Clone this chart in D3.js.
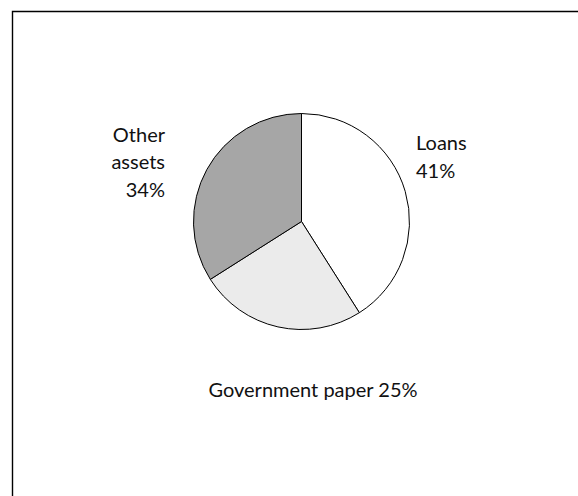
<!DOCTYPE html>
<html>
<head>
<meta charset="utf-8">
<script src="https://cdn.jsdelivr.net/npm/d3@7"></script>
<style>
  body { margin: 0; background: #fff; }
  text { font-family: Lato, "Open Sans", sans-serif; fill: #111; }
</style>
</head>
<body>
<script>
var width = 578;
var height = 496;

// slice data, clockwise from 12 o'clock
var categories = ["Loans", "Government paper", "Other assets"];
var shares = [41, 25, 34];
var fills = ["#ffffff", "#ebebeb", "#a6a6a6"];

var svg = d3.select("body").append("svg")
  .attr("width", width)
  .attr("height", height);

// frame (only left and top edges show)
svg.append("path")
  .attr("d", "M12.5," + height + "V11.5H" + width)
  .attr("fill", "none")
  .attr("stroke", "#000")
  .attr("stroke-width", 1.4);

var cx = 301.5, cy = 221.5, r = 108;

var pie = d3.pie().sort(null).value(function(d){ return d; });
var arc = d3.arc().innerRadius(0).outerRadius(r);

var g = svg.append("g").attr("transform", "translate(" + cx + "," + cy + ")");

g.selectAll("path")
  .data(pie(shares))
  .enter()
  .append("path")
  .attr("d", arc)
  .attr("fill", function(d, i){ return fills[i]; })
  .attr("stroke", "#000")
  .attr("stroke-width", 1);

// labels
var fs = 20;

var loans = svg.append("text").attr("x", 416).attr("y", 150).style("font-size", fs + "px");
loans.append("tspan").attr("x", 416).text(categories[0]);
loans.append("tspan").attr("x", 416).attr("dy", 28).text(shares[0] + "%");

var other = svg.append("text").attr("y", 141.5).attr("text-anchor", "end").style("font-size", fs + "px");
other.append("tspan").attr("x", 165).text("Other");
other.append("tspan").attr("x", 165).attr("dy", 27.5).text("assets");
other.append("tspan").attr("x", 165).attr("dy", 27.5).text(shares[2] + "%");

svg.append("text")
  .attr("x", 313)
  .attr("y", 397)
  .attr("text-anchor", "middle")
  .style("font-size", fs + "px")
  .text(categories[1] + " " + shares[1] + "%");
</script>
</body>
</html>
